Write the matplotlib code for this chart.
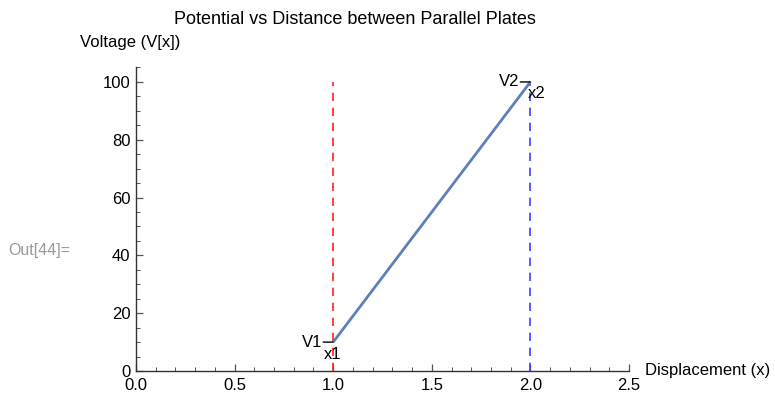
import matplotlib
matplotlib.use("Agg")
import matplotlib.pyplot as plt
from matplotlib.ticker import MultipleLocator

plt.rcParams['font.family'] = ['Liberation Sans', 'DejaVu Sans']

# data
line_x = [1.0, 2.0]
line_v = [10, 100]
plate_x = [1.0, 2.0]
plate_top = [100, 100]
plate_colors = ['#ff2020', '#4040ff']
v_labels = ['V1', 'V2']
x_labels = ['x1', 'x2']
title = 'Potential vs Distance between Parallel Plates'
xlabel = 'Displacement (x)'
ylabel = 'Voltage (V[x])'

fig = plt.figure(figsize=(7.75, 3.96), dpi=100)
ax = fig.add_axes([136/775, 1-371/396, (629-136)/775, (371-67.5)/396])

for xp, top, c in zip(plate_x, plate_top, plate_colors):
    ax.plot([xp, xp], [0, top], color=c, lw=1.2, ls=(0, (5, 4)))

ax.plot(line_x, line_v, color='#5E81B5', lw=2.0, solid_capstyle='butt')

for xp, vp, vl, xl in zip(line_x, line_v, v_labels, x_labels):
    ax.annotate('', xy=(xp, vp), xytext=(-10, 0), textcoords='offset pixels',
                arrowprops=dict(arrowstyle='-', lw=1.0, color='black',
                                shrinkA=0, shrinkB=0))
    ax.annotate(vl, xy=(xp, vp), xytext=(-11, 0), textcoords='offset pixels',
                ha='right', va='center', fontsize=12)
    ax.annotate(xl, xy=(xp, vp), xytext=(-1 if xl == 'x1' else 6, -12),
                textcoords='offset pixels', ha='center', va='center', fontsize=12)

ax.set_xlim(0, 2.5)
ax.set_ylim(0, 105)
ax.xaxis.set_major_locator(MultipleLocator(0.5))
ax.xaxis.set_minor_locator(MultipleLocator(0.1))
ax.yaxis.set_major_locator(MultipleLocator(20))
ax.yaxis.set_minor_locator(MultipleLocator(5))
ax.xaxis.set_major_formatter(matplotlib.ticker.FormatStrFormatter('%.1f'))
for s in ['top', 'right']:
    ax.spines[s].set_visible(False)
for s in ['left', 'bottom']:
    ax.spines[s].set_linewidth(1.0)
    ax.spines[s].set_color('#333333')
ax.tick_params(which='both', direction='in', color='#555555', labelsize=12)
ax.tick_params(which='major', length=5, width=0.9)
ax.tick_params(which='minor', length=3, width=0.7)
ax.tick_params(axis='x', pad=5)
ax.tick_params(axis='y', pad=4)

fig.text(355/775, 1-20/396, title, ha='center', va='center', fontsize=13)
fig.text(80/775, 1-43/396, ylabel, ha='left', va='center', fontsize=12)
fig.text(645/775, 1-370/396, xlabel, ha='left', va='center', fontsize=12)
fig.text(8/775, 1-250/396, 'Out[44]=', ha='left', va='center', fontsize=11.5, color='#999999')

fig.savefig('out.png', dpi=100)
